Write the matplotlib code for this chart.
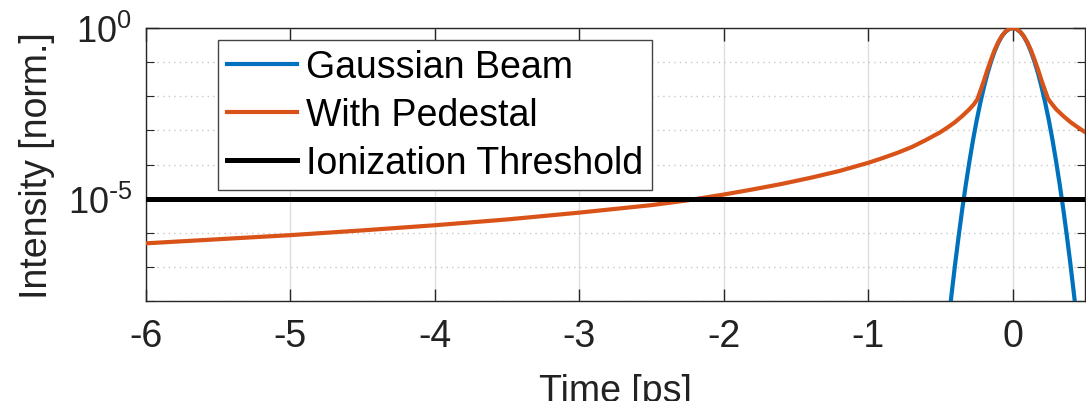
import numpy as np
import matplotlib
matplotlib.use("Agg")
import matplotlib.pyplot as plt
from matplotlib.ticker import FixedLocator, NullFormatter

# time axis [ps] and log10 of normalised intensity
gauss_t = [-0.45, -0.425, -0.4, -0.375, -0.35, -0.325, -0.3, -0.275, -0.25, -0.225,
           -0.2, -0.175, -0.15, -0.125, -0.1, -0.075, -0.05, -0.025, 0.0,
           0.025, 0.05, 0.075, 0.1, 0.125, 0.15, 0.175, 0.2, 0.225, 0.25,
           0.275, 0.3, 0.325, 0.35, 0.375, 0.4, 0.425, 0.45]
gauss_log = [-8.80, -7.85, -6.95, -6.11, -5.32, -4.59, -3.91, -3.28, -2.71, -2.20,
             -1.74, -1.33, -0.98, -0.68, -0.43, -0.24, -0.11, -0.03, 0.0,
             -0.03, -0.11, -0.24, -0.43, -0.68, -0.98, -1.33, -1.74, -2.20, -2.71,
             -3.28, -3.91, -4.59, -5.32, -6.11, -6.95, -7.85, -8.80]

ped_t = [-6.0, -5.5, -5.0, -4.5, -4.0, -3.5, -3.0, -2.75, -2.5, -2.25, -2.0,
         -1.8, -1.6, -1.4, -1.2, -1.0, -0.9, -0.8, -0.7, -0.6, -0.5, -0.45,
         -0.4, -0.35, -0.3, -0.27, -0.245, -0.225, -0.2, -0.175, -0.15, -0.125,
         -0.1, -0.075, -0.05, -0.025, 0.0, 0.025, 0.05, 0.075, 0.1, 0.125,
         0.15, 0.175, 0.2, 0.225, 0.245, 0.27, 0.3, 0.35, 0.4, 0.45, 0.5]
ped_log = [-6.31, -6.19, -6.07, -5.93, -5.78, -5.61, -5.41, -5.30, -5.19, -5.05, -4.88,
           -4.73, -4.57, -4.39, -4.19, -3.95, -3.81, -3.66, -3.49, -3.28, -3.05, -2.91,
           -2.76, -2.58, -2.38, -2.24, -2.09, -1.85, -1.55, -1.22, -0.92, -0.64,
           -0.41, -0.23, -0.10, -0.03, 0.0, -0.03, -0.10, -0.23, -0.41, -0.64,
           -0.92, -1.22, -1.55, -1.85, -2.08, -2.22, -2.38, -2.58, -2.76, -2.91, -3.05]

threshold = 1e-5

xticks = [-6, -5, -4, -3, -2, -1, 0]
yticks = [1e-5, 1e0]
ytick_labels = [r"$\mathregular{10^{\text{-}5}}$", r"$\mathregular{10^{0}}$"]
ydecades = [1e-8, 1e-7, 1e-6, 1e-5, 1e-4, 1e-3, 1e-2, 1e-1, 1e0]

plt.rcParams["font.family"] = ["Liberation Sans", "DejaVu Sans"]
plt.rcParams["axes.unicode_minus"] = False
plt.rcParams["mathtext.default"] = "regular"

blue = "#0072BD"
orange = "#D95319"
axcol = "#262626"

fig = plt.figure(figsize=(10.86, 4.02), dpi=100)
ax = fig.add_axes([146 / 1086, 100 / 402, 939 / 1086, 273 / 402])

ax.plot(gauss_t, np.power(10.0, gauss_log), color=blue, lw=3.0, label="Gaussian Beam", zorder=3)
ax.plot(ped_t, np.power(10.0, ped_log), color=orange, lw=3.0, label="With Pedestal", zorder=4)
ax.axhline(threshold, color="black", lw=3.6, label="Ionization Threshold", zorder=5)

ax.set_yscale("log")
ax.set_xlim(-6, 0.5)
ax.set_ylim(1e-8, 1e0)

ax.set_xticks(xticks)
ax.set_xticklabels([str(v) for v in xticks])
ax.yaxis.set_major_locator(FixedLocator(yticks))
ax.set_yticklabels(ytick_labels)
ax.yaxis.set_minor_locator(FixedLocator(ydecades))
ax.yaxis.set_minor_formatter(NullFormatter())

ax.tick_params(which="both", direction="in", top=True, right=True, colors=axcol,
               labelcolor="#222222")
ax.tick_params(which="major", length=9, width=1.0, pad=12)
ax.tick_params(axis="x", which="major", labelsize=27)
ax.tick_params(axis="y", which="major", labelsize=26, pad=10)
ax.tick_params(which="minor", length=6, width=0.8)
for s in ax.spines.values():
    s.set_color(axcol)
    s.set_linewidth(1.0)

ax.grid(True, which="major", axis="x", color="#dedede", lw=1.0, zorder=0)
ax.grid(True, which="minor", axis="y", color="#c8c8c8", lw=1.0, ls=(0, (1, 3)), zorder=0)
ax.grid(True, which="major", axis="y", color="#dedede", lw=1.0, zorder=0)

ax.set_xlabel("Time [ps]", fontsize=27, color="#222222", labelpad=14)
ax.set_ylabel("Intensity [norm.]", fontsize=27, color="#222222")
ax.yaxis.set_label_coords(-0.097, 0.5)

leg = ax.legend(loc="upper left", bbox_to_anchor=(0.0767, 0.956), fontsize=27,
                frameon=True, fancybox=False, framealpha=1.0, edgecolor="#444444",
                handlelength=1.87, handletextpad=0.24, labelspacing=0.33,
                borderpad=0.23, borderaxespad=0.0)
leg.get_frame().set_linewidth(1.0)

fig.savefig("out.png", dpi=100)
